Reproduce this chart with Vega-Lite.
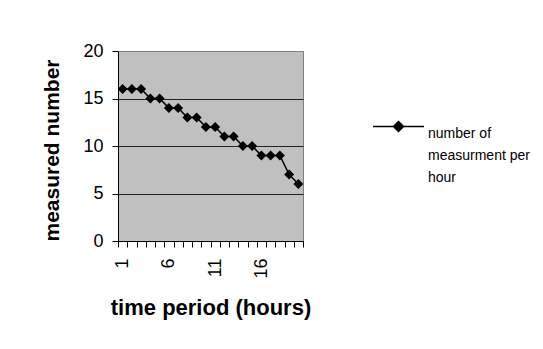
{
  "$schema": "https://vega.github.io/schema/vega-lite/v6.json",
  "width": 185,
  "height": 190,
  "autosize": {"type": "none"},
  "padding": {"left": 118, "top": 51, "right": 240, "bottom": 108},
  "background": "white",
  "config": {
    "view": {"fill": "#c0c0c0", "stroke": "#808080", "strokeWidth": 1},
    "font": "Liberation Sans",
    "style": {"guide-label": {"lineHeight": 22}}
  },
  "data": {
    "values": [
      {"hour": 1, "value": 16, "series": "number of measurment per hour"},
      {"hour": 2, "value": 16, "series": "number of measurment per hour"},
      {"hour": 3, "value": 16, "series": "number of measurment per hour"},
      {"hour": 4, "value": 15, "series": "number of measurment per hour"},
      {"hour": 5, "value": 15, "series": "number of measurment per hour"},
      {"hour": 6, "value": 14, "series": "number of measurment per hour"},
      {"hour": 7, "value": 14, "series": "number of measurment per hour"},
      {"hour": 8, "value": 13, "series": "number of measurment per hour"},
      {"hour": 9, "value": 13, "series": "number of measurment per hour"},
      {"hour": 10, "value": 12, "series": "number of measurment per hour"},
      {"hour": 11, "value": 12, "series": "number of measurment per hour"},
      {"hour": 12, "value": 11, "series": "number of measurment per hour"},
      {"hour": 13, "value": 11, "series": "number of measurment per hour"},
      {"hour": 14, "value": 10, "series": "number of measurment per hour"},
      {"hour": 15, "value": 10, "series": "number of measurment per hour"},
      {"hour": 16, "value": 9, "series": "number of measurment per hour"},
      {"hour": 17, "value": 9, "series": "number of measurment per hour"},
      {"hour": 18, "value": 9, "series": "number of measurment per hour"},
      {"hour": 19, "value": 7, "series": "number of measurment per hour"},
      {"hour": 20, "value": 6, "series": "number of measurment per hour"}
    ]
  },
  "mark": {
    "type": "line",
    "color": "black",
    "strokeWidth": 1.5,
    "point": {"shape": "diamond", "size": 100, "filled": true, "color": "black", "opacity": 1}
  },
  "encoding": {
    "x": {
      "field": "hour",
      "type": "ordinal",
      "scale": {"type": "band", "paddingInner": 0, "paddingOuter": 0},
      "axis": {
        "title": "time period (hours)",
        "titleFontSize": 22,
        "titleFontWeight": "bold",
        "titleColor": "black",
        "titlePadding": 19,
        "labelAngle": 270,
        "labelFontSize": 18,
        "labelColor": "black",
        "labelPadding": 11,
        "labelOverlap": false,
        "labelExpr": "(datum.value - 1) % 5 == 0 ? datum.label : ''",
        "tickBand": "extent",
        "tickColor": "black",
        "tickSize": 6,
        "domainColor": "black",
        "grid": false
      }
    },
    "y": {
      "field": "value",
      "type": "quantitative",
      "scale": {"domain": [0, 20], "nice": false},
      "axis": {
        "title": "measured number",
        "titleFontSize": 21,
        "titleFontWeight": "bold",
        "titleColor": "black",
        "titlePadding": 20,
        "titleY": 99,
        "values": [0, 5, 10, 15, 20],
        "labelFontSize": 18,
        "labelColor": "black",
        "labelPadding": 9,
        "tickSize": 6,
        "tickColor": "black",
        "domainColor": "black",
        "grid": true,
        "gridColor": {"condition": {"test": "datum.value == 20", "value": "#808080"}, "value": "#222222"},
        "gridWidth": 1
      }
    },
    "color": {
      "field": "series",
      "type": "nominal",
      "scale": {"range": ["black"]},
      "legend": {
        "orient": "none",
        "legendX": 254,
        "legendY": 49,
        "title": null,
        "padding": 0,
        "symbolType": "M-1,0L1,0M0,-0.196L0.196,0L0,0.196L-0.196,0Z",
        "symbolSize": 2601,
        "symbolStrokeWidth": 1.5,
        "symbolFillColor": "black",
        "symbolStrokeColor": "black",
        "labelFontSize": 14,
        "labelColor": "black",
        "labelOffset": 3,
        "labelBaseline": "top",
        "labelLimit": 0,
        "labelExpr": "['number of', 'measurment per', 'hour']"
      }
    }
  }
}
